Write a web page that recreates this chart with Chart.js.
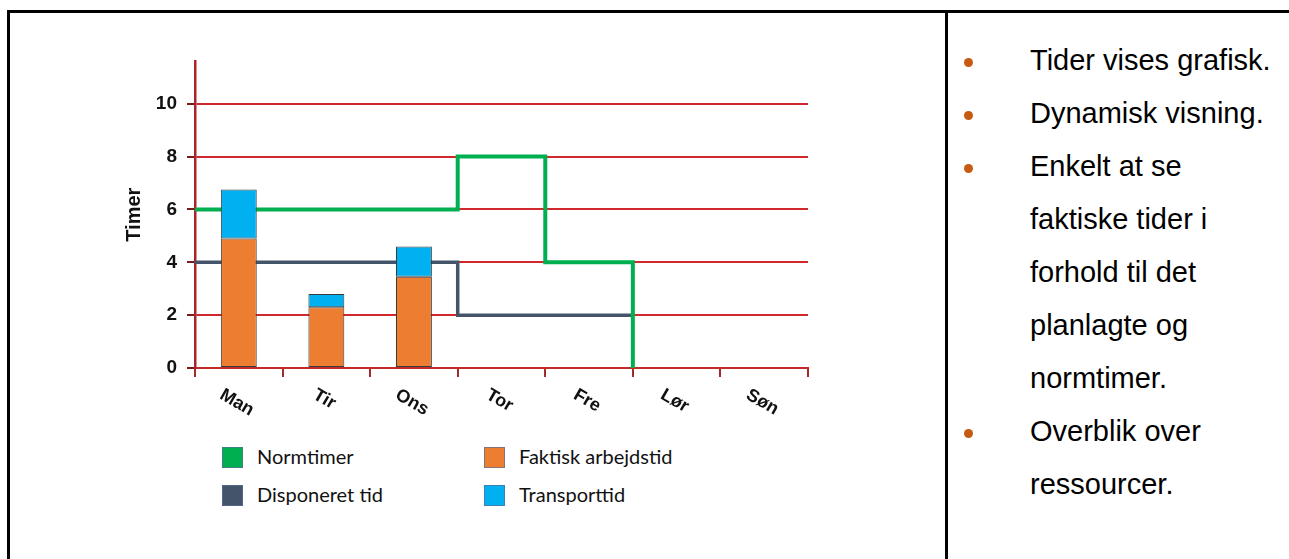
<!DOCTYPE html>
<html>
<head>
<meta charset="utf-8">
<script src="https://cdn.jsdelivr.net/npm/chart.js@4.4.1/dist/chart.umd.min.js"></script>
<style>
  html, body { margin: 0; padding: 0; width: 1289px; height: 559px; overflow: hidden; background: #fff; }
  .ramme { position: absolute; left: 7px; top: 10px; width: 1400px; height: 600px; border-left: 3px solid #000; border-top: 3px solid #000; }
  .skille { position: absolute; left: 945px; top: 10px; width: 3px; height: 560px; background: #000; }
  #chartWrap { position: absolute; left: 120px; top: 40px; width: 700px; height: 390px; }
  .leg { position: absolute; font-family: Lato, "Open Sans", sans-serif; font-size: 20px; color: #111; white-space: nowrap; }
  .leg .box { position: absolute; left: 0; width: 21px; height: 21px; border: 1px solid rgba(90, 110, 150, 0.7); box-sizing: border-box; }
  .leg .txt { position: absolute; left: 35px; top: -3px; }
  ul.punkter { position: absolute; left: 1030px; top: 34px; margin: 0; padding: 0; list-style: none;
    font-family: "Liberation Sans", Arial, sans-serif; font-size: 29px; line-height: 53px; color: #000; }
  ul.punkter li { position: relative; }
  ul.punkter li::before { content: ""; position: absolute; left: -66px; top: 24px; width: 9px; height: 9px; border-radius: 50%; background: #c55a11; }
</style>
</head>
<body>
<div class="ramme"></div>
<div class="skille"></div>
<div id="chartWrap"><canvas id="graf"></canvas></div>
<div id="legende"></div>
<ul class="punkter">
  <li>Tider vises grafisk.</li>
  <li>Dynamisk visning.</li>
  <li>Enkelt at se<br>faktiske tider i<br>forhold til det<br>planlagte og<br>normtimer.</li>
  <li>Overblik over<br>ressourcer.</li>
</ul>
<script>
// dage og timer
const dage = ['Man', 'Tir', 'Ons', 'Tor', 'Fre', 'Lør', 'Søn'];
const faktisk = [4.9, 2.3, 3.45, null, null, null, null];
const transport = [1.85, 0.5, 1.15, null, null, null, null];
// trinlinjer, en værdi pr. dag fra mandag
const normtimer = [6, 6, 6, 8, 4];
const disponeret = [4, 4, 4, 2, 2];
const yTicks = [0, 2, 4, 6, 8, 10];

// punkter til trinlinjen: dag i holder sin værdi fra i til i+1, sidste punkt lukker linjen
function trin(vals, slut) {
  const p = vals.map((v, i) => ({ x: i, y: v }));
  p.push({ x: vals.length, y: slut });
  return p;
}

const dagLabels = {
  id: 'dagLabels',
  afterDraw(chart) {
    const sx = chart.scales.x;
    const ctx = chart.ctx;
    const a = 30 * Math.PI / 180;
    ctx.save();
    ctx.font = 'bold 18px "Liberation Sans", Arial, sans-serif';
    ctx.fillStyle = '#111';
    ctx.textAlign = 'center';
    ctx.textBaseline = 'middle';
    dage.forEach((d, i) => {
      const w = ctx.measureText(d).width;
      const h = 13;
      const half = (w * Math.sin(a) + h * Math.cos(a)) / 2;
      ctx.save();
      ctx.translate(sx.getPixelForValue(i) - 2, sx.top + 20 + half);
      ctx.rotate(a);
      ctx.fillText(d, 0, 0);
      ctx.restore();
    });
    ctx.restore();
  }
};

var ctx = document.getElementById('graf').getContext('2d');
var graf = new Chart(ctx, {
  type: 'bar',
  data: {
    labels: dage,
    datasets: [
      {
        type: 'line', label: 'Normtimer', data: trin(normtimer, 0),
        xAxisID: 'xl', yAxisID: 'yl', order: 1,
        borderColor: '#00b050', backgroundColor: '#00b050', borderWidth: 4,
        stepped: true, pointRadius: 0, fill: false, borderJoinStyle: 'miter'
      },
      {
        type: 'line', label: 'Disponeret tid', data: trin(disponeret, disponeret[disponeret.length - 1]),
        xAxisID: 'xl', yAxisID: 'yl', order: 2,
        borderColor: '#44546a', backgroundColor: '#44546a', borderWidth: 3.5,
        stepped: true, pointRadius: 0, fill: false, borderJoinStyle: 'miter'
      },
      {
        label: 'Faktisk arbejdstid', data: faktisk, xAxisID: 'x', yAxisID: 'y', order: 0, grouped: false,
        backgroundColor: '#ed7d31', borderColor: '#3a3a3a', borderWidth: 1, borderSkipped: false,
        barPercentage: 0.41, categoryPercentage: 1
      },
      {
        label: 'Transporttid', data: transport, xAxisID: 'x', yAxisID: 'y', order: 0, grouped: false,
        backgroundColor: '#00b0f0', borderColor: '#3a3a3a', borderWidth: 1, borderSkipped: false,
        barPercentage: 0.41, categoryPercentage: 1
      }
    ]
  },
  options: {
    responsive: true,
    maintainAspectRatio: false,
    animation: false,
    layout: { padding: { top: 19, right: 12, bottom: 0, left: 0 } },
    plugins: { legend: { display: false }, tooltip: { enabled: false } },
    scales: {
      x: {
        type: 'category', stacked: true, offset: true,
        ticks: { display: false },
        grid: { drawOnChartArea: false, offset: true, color: '#a52a2a', lineWidth: 2, tickLength: 9 },
        border: { color: '#c42a2a', width: 2 },
        afterFit: function (scale) { scale.height = 62; }
      },
      xl: { type: 'linear', min: 0, max: dage.length, offset: false, display: false },
      yl: { type: 'linear', min: 0, max: 11.6, stacked: false, display: false },
      y: {
        stacked: true, min: 0, max: 11.6,
        afterBuildTicks: function (axis) { axis.ticks = yTicks.map(v => ({ value: v })); },
        ticks: { color: '#111', padding: 10, font: { family: '"Liberation Sans", Arial', size: 19, weight: 'bold' } },
        grid: { color: '#d0282c', lineWidth: 2, tickLength: 8, tickColor: '#7a1c1c' },
        border: { color: '#a8262a', width: 2.5 },
        title: {
          display: true, text: 'Timer', color: '#111', padding: { top: 2, bottom: 0 },
          font: { family: '"Liberation Sans", Arial', size: 20, weight: 'bold' }
        },
        afterFit: function (scale) { scale.width = 75; }
      }
    }
  },
  plugins: [dagLabels]
});

// legende i to kolonner, bygget fra datasættene
var pladser = [[222, 447], [222, 485], [484, 447], [484, 485]];
var legende = document.getElementById('legende');
graf.data.datasets.forEach(function (ds, i) {
  var el = document.createElement('div');
  el.className = 'leg';
  el.style.left = pladser[i][0] + 'px';
  el.style.top = pladser[i][1] + 'px';
  el.innerHTML = '<span class="box" style="background:' + ds.backgroundColor + '"></span><span class="txt"></span>';
  el.querySelector('.txt').textContent = ds.label;
  legende.appendChild(el);
});
</script>
</body>
</html>
